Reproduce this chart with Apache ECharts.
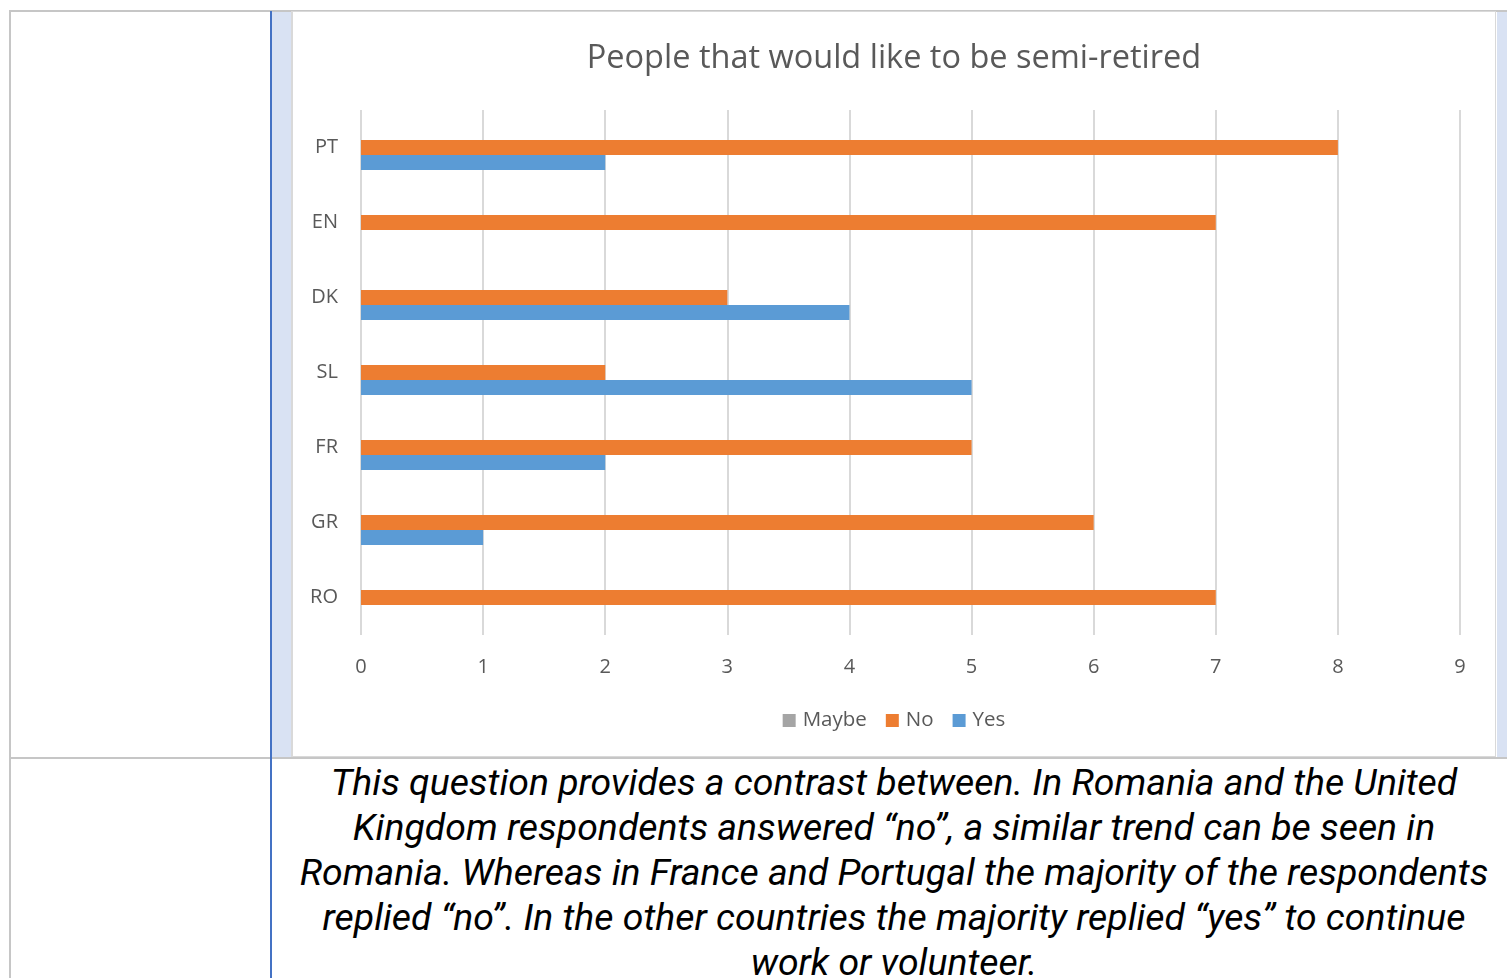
<!DOCTYPE html>
<html>
<head>
<meta charset="utf-8">
<script src="https://cdn.jsdelivr.net/npm/echarts@6/dist/echarts.min.js"></script>
<style>
  html, body { margin: 0; padding: 0; background: #ffffff; overflow: hidden; }
  body { width: 1507px; height: 978px; position: relative; }
  .abs { position: absolute; }
  #topline { left: 9px; top: 10px; width: 1498px; height: 2px; background: #c6c6c6; }
  #leftline { left: 9px; top: 10px; width: 2px; height: 968px; background: #c6c6c6; }
  #rowline { left: 9px; top: 757px; width: 1498px; height: 2px; background: #c6c6c6; }
  #blueline { left: 270px; top: 11px; width: 2px; height: 967px; background: #4472c4; }
  #strip1 { left: 272px; top: 12px; width: 19px; height: 745px; background: #d9e2f3; }
  #strip2 { left: 1497px; top: 12px; width: 10px; height: 745px; background: #d9e2f3; }
  #chartbox { left: 291px; top: 11px; width: 1205px; height: 746px; background: #d9d9d9; }
  #chart { left: 293px; top: 12px; width: 1202px; height: 744px; background: #ffffff; }
  #note { left: 292px; top: 760px; width: 1204px; text-align: center;
          font-family: Roboto, "Noto Sans", sans-serif; font-style: italic;
          font-size: 37.4px; line-height: 45px; color: #000; white-space: nowrap; }
</style>
</head>
<body>
<div class="abs" id="topline"></div>
<div class="abs" id="leftline"></div>
<div class="abs" id="strip1"></div>
<div class="abs" id="strip2"></div>
<div class="abs" id="chartbox"></div>
<div class="abs" id="chart"></div>
<div class="abs" id="rowline"></div>
<div class="abs" id="blueline"></div>
<div class="abs" id="note">
This question provides a contrast between. In Romania and the United<br>
Kingdom respondents answered “no”, a similar trend can be seen in<br>
Romania. Whereas in France and Portugal the majority of the respondents<br>
replied “no”. In the other countries the majority replied “yes” to continue<br>
work or volunteer.
</div>
<script>
// Data (categories bottom-to-top as drawn)
var countries = ['RO', 'GR', 'FR', 'SL', 'DK', 'EN', 'PT'];
var maybeValues = [0, 0, 0, 0, 0, 0, 0];
var noValues = [7, 6, 5, 2, 3, 7, 8];
var yesValues = [0, 1, 2, 5, 4, 0, 2];
var xTicks = [0, 1, 2, 3, 4, 5, 6, 7, 8, 9];
var titleText = 'People that would like to be semi-retired';

var font = '"Open Sans", "Noto Sans", sans-serif';
var chart = echarts.init(document.getElementById('chart'), null, { renderer: 'canvas' });
chart.setOption({
  animation: false,
  backgroundColor: '#ffffff',
  title: {
    text: titleText,
    left: 'center',
    top: 25,
    textStyle: { fontFamily: font, fontSize: 32.5, fontWeight: 'normal', color: '#595959' }
  },
  legend: {
    top: 693,
    left: 'center',
    itemWidth: 13,
    itemHeight: 13,
    itemGap: 19,
    icon: 'rect',
    textStyle: { fontFamily: font, fontSize: 20.5, color: '#595959', padding: [0, 0, 0, 2] },
    data: ['Maybe', 'No', 'Yes']
  },
  grid: { left: 68, right: 35, top: 98, bottom: 121, containLabel: false },
  xAxis: {
    type: 'value',
    min: xTicks[0],
    max: xTicks[xTicks.length - 1],
    interval: 1,
    axisLine: { show: false },
    axisTick: { show: false },
    splitLine: { show: true, lineStyle: { color: '#d9d9d9', width: 2 } },
    axisLabel: { fontFamily: font, fontSize: 20, color: '#595959', margin: 22 }
  },
  yAxis: {
    type: 'category',
    data: countries,
    axisLine: { show: false },
    axisTick: { show: false },
    axisLabel: { fontFamily: font, fontSize: 20, color: '#595959', margin: 23 }
  },
  series: [
    { name: 'Maybe', type: 'bar', data: maybeValues, itemStyle: { color: '#a5a5a5' }, barGap: '0%', barCategoryGap: '40%' },
    { name: 'No', type: 'bar', data: noValues, itemStyle: { color: '#ed7d31' }, barGap: '0%', barCategoryGap: '40%' },
    { name: 'Yes', type: 'bar', data: yesValues, itemStyle: { color: '#5b9bd5' }, barGap: '0%', barCategoryGap: '40%' }
  ]
});
</script>
</body>
</html>
